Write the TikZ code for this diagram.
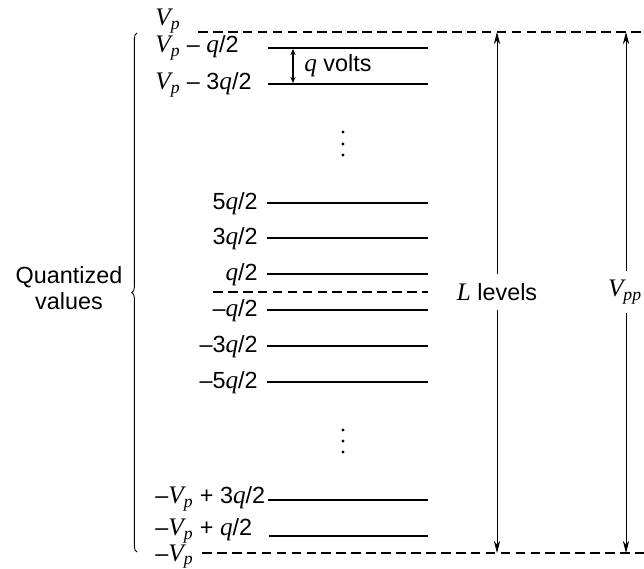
\documentclass[tikz,border=0pt]{standalone}
\usepackage{fontspec}
\setmainfont{Liberation Sans}
\newfontfamily\varfont[Scale=1.08]{Liberation Serif}
\newcommand{\var}[1]{{\varfont\itshape #1}}
\newcommand{\vpk}{\var{V}\textsubscript{\var{p}}}
\usetikzlibrary{arrows.meta, decorations.pathreplacing}

\begin{document}
\begin{tikzpicture}[x=0.02cm, y=-0.02cm,
  level/.style={line width=1.1pt},
  zero/.style={line width=1.1pt, dash pattern=on 5.5pt off 3pt},
  lab/.style={font=\fontsize{13.3}{14.5}\selectfont, inner sep=0pt},
  span/.style={-{Stealth[length=7pt, width=3.6pt]}, line width=0.5pt},
  gap/.style={{Stealth[length=3.5pt, width=3pt]}-{Stealth[length=3.5pt, width=3pt]}, line width=0.6pt},
  brace/.style={decorate, decoration={brace, amplitude=3pt}, line width=0.5pt}
]
  \useasboundingbox (0,0) rectangle (644,568);

  % dashed reference levels
  \coordinate (top-l) at (198,32);  \coordinate (top-r) at (644,32);
  \coordinate (mid-l) at (213,292); \coordinate (mid-r) at (428,292);
  \coordinate (bot-l) at (202,553); \coordinate (bot-r) at (644,553);
  \draw[zero] (top-l) -- (top-r);
  \draw[zero] (mid-l) -- (mid-r);
  \draw[zero] (bot-l) -- (bot-r);

  % quantized levels
  \coordinate (a-l) at (268,48);  \coordinate (a-r) at (428,48);
  \coordinate (b-l) at (268,84);  \coordinate (b-r) at (428,84);
  \coordinate (c-l) at (267,203); \coordinate (c-r) at (428,203);
  \coordinate (d-l) at (267,238); \coordinate (d-r) at (428,238);
  \coordinate (e-l) at (267,274); \coordinate (e-r) at (428,274);
  \coordinate (f-l) at (267,310); \coordinate (f-r) at (428,310);
  \coordinate (g-l) at (267,346); \coordinate (g-r) at (428,346);
  \coordinate (h-l) at (267,382); \coordinate (h-r) at (428,382);
  \coordinate (i-l) at (268,500); \coordinate (i-r) at (428,500);
  \coordinate (j-l) at (269,536); \coordinate (j-r) at (428,536);
  \draw[level] (a-l) -- (a-r);
  \draw[level] (b-l) -- (b-r);
  \draw[level] (c-l) -- (c-r);
  \draw[level] (d-l) -- (d-r);
  \draw[level] (e-l) -- (e-r);
  \draw[level] (f-l) -- (f-r);
  \draw[level] (g-l) -- (g-r);
  \draw[level] (h-l) -- (h-r);
  \draw[level] (i-l) -- (i-r);
  \draw[level] (j-l) -- (j-r);

  % level labels
  \node[lab, anchor=west] (vp) at (155,21) {\vpk};
  \node[lab, anchor=west] (va) at (155,48) {\vpk{} – \var{q}/2};
  \node[lab, anchor=west] (vb) at (155,85) {\vpk{} – 3\var{q}/2};
  \node[lab, anchor=east] (vc) at (258,204) {5\var{q}/2};
  \node[lab, anchor=east] (vd) at (258,239) {3\var{q}/2};
  \node[lab, anchor=east] (ve) at (258,275) {\var{q}/2};
  \node[lab, anchor=east] (vf) at (258,311) {–\var{q}/2};
  \node[lab, anchor=east] (vg) at (258,347) {–3\var{q}/2};
  \node[lab, anchor=east] (vh) at (258,383) {–5\var{q}/2};
  \node[lab, anchor=west] (vi) at (155,499) {–\vpk{} + 3\var{q}/2};
  \node[lab, anchor=west] (vj) at (155,531) {–\vpk{} + \var{q}/2};
  \node[lab, anchor=base west] (vn) at (155,561) {–\vpk};

  % omitted levels
  \fill (343,132) circle (1.7);
  \fill (343,144) circle (1.7);
  \fill (343,155) circle (1.7);
  \fill (343,430) circle (1.7);
  \fill (343,441) circle (1.7);
  \fill (343,452) circle (1.7);

  % step size
  \coordinate (qa) at (293,49);
  \coordinate (qb) at (293,83);
  \draw[gap] (qa) -- (qb);
  \node[lab, anchor=west] (qv) at (304,66) {\var{q} volts};

  % ranges
  \node[lab, inner sep=5pt] (ll) at (497,292) {\var{L} levels};
  \draw[span] (ll.north) -- (ll.north |- top-r);
  \draw[span] (ll.south) -- (ll.south |- bot-r);
  \node[lab, inner sep=5pt] (vpp) at (625,292) {\var{V}\textsubscript{\var{pp}}};
  \coordinate (pp-t) at (626,32);
  \coordinate (pp-b) at (626,553);
  \draw[span] (vpp.north -| pp-t) -- (pp-t);
  \draw[span] (vpp.south -| pp-b) -- (pp-b);

  % quantized values brace
  \coordinate (br-b) at (137,552);
  \coordinate (br-t) at (137,33);
  \draw[brace] (br-b) -- (br-t);
  \node[lab, align=center] (quant) at (69,288) {Quantized\\values};
\end{tikzpicture}
\end{document}
